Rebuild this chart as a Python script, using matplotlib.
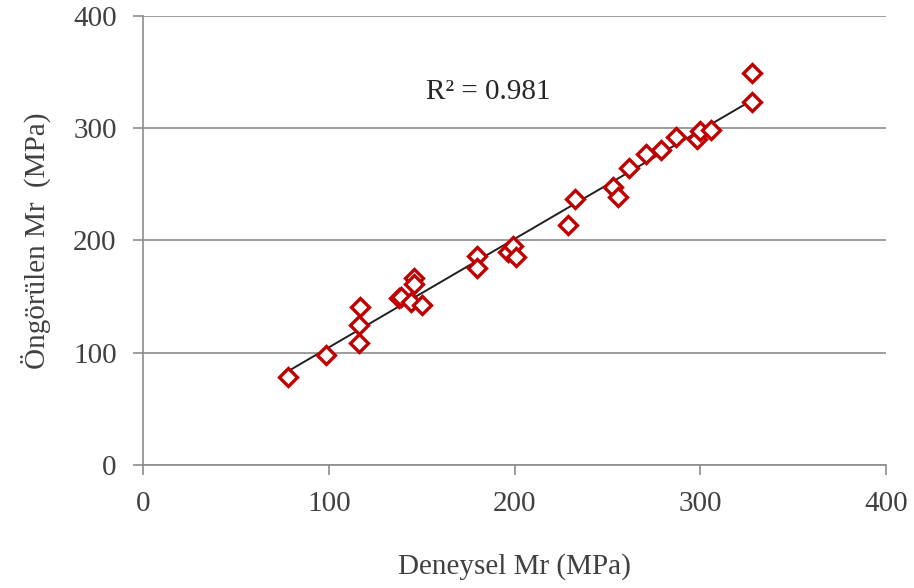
import numpy as np
import matplotlib.pyplot as plt

plt.rcParams['font.family'] = ['Liberation Serif', 'DejaVu Serif']

# Deneysel (measured) vs Öngörülen (predicted) Mr, MPa
deneysel = [78, 98.5, 116, 116, 117, 138, 139, 144, 146, 146, 150,
            180, 180, 196.5, 199, 201, 229, 232.5, 253, 255.5,
            261.5, 271, 279, 287, 298, 300, 306, 328, 328]
ongorulen = [78, 98, 109, 125, 141, 149, 150, 145, 167, 161, 142.5,
             186, 175.5, 190, 195, 185, 214, 237, 248, 239,
             265, 277, 281, 292, 290, 297.5, 298.5, 349, 323]

r2_text = 'R² = 0.981'
xlabel = 'Deneysel Mr (MPa)'
ylabel = 'Öngörülen Mr  (MPa)'
ticks = [0, 100, 200, 300, 400]

fig = plt.figure(figsize=(9.14, 5.88), dpi=100)
ax = fig.add_axes([0.1565, 0.2092, 0.8129, 0.7636])

x = np.array(deneysel)
y = np.array(ongorulen)
a, b = np.polyfit(x, y, 1)
xl = np.array([x.min(), x.max()])
ax.plot(xl, a * xl + b, color='#202020', lw=1.4, zorder=2)

ax.plot(x, y, linestyle='none', marker='D', ms=9, mfc='white',
        mec='#C00000', mew=2.4, zorder=3)

ax.set_xlim(0, 400)
ax.set_ylim(0, 400)
ax.set_xticks(ticks)
ax.set_yticks(ticks)
ax.grid(axis='y', color='#8c8c8c', lw=1.2)
ax.set_axisbelow(True)
for s in ['top', 'right']:
    ax.spines[s].set_visible(False)
for s in ['left', 'bottom']:
    ax.spines[s].set_color('#8c8c8c')
    ax.spines[s].set_linewidth(1.2)
ax.tick_params(direction='out', length=7, width=1.2, color='#8c8c8c',
               labelsize=21, labelcolor='#404040')
ax.tick_params(axis='x', pad=12)
ax.tick_params(axis='y', pad=12)

ax.set_xlabel(xlabel, fontsize=21, color='#404040', labelpad=26)
ax.set_ylabel(ylabel, fontsize=21, color='#404040', labelpad=16)
ax.text(186, 332, r2_text, fontsize=21, color='#262626', ha='center', va='center')

fig.savefig('out.png', dpi=100)
